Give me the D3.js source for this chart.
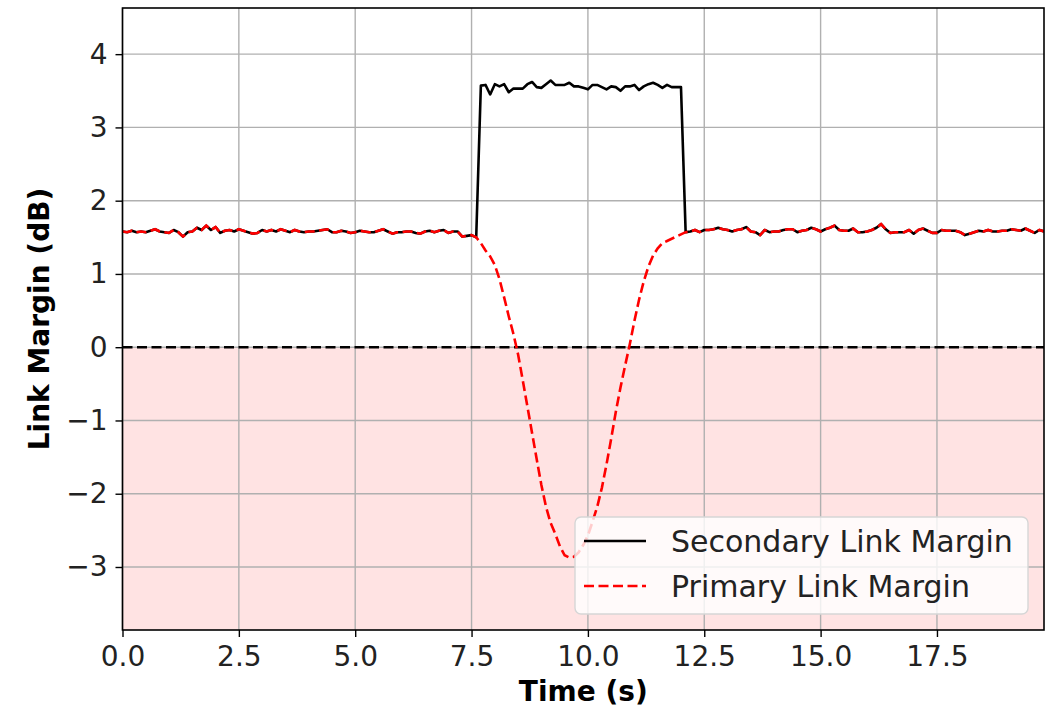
<!DOCTYPE html>
<html>
<head>
<meta charset="utf-8">
<script src="https://cdn.jsdelivr.net/npm/d3@7"></script>
<style>
  html, body { margin: 0; padding: 0; background: #fff; }
  svg { display: block; }
  text { font-family: "DejaVu Sans", sans-serif; }
</style>
</head>
<body>
<svg id="chart" width="1056" height="710"></svg>
<script>
// ---- Data (time step 0.1 s, t = 0.0 ... 19.8) ----
const timeStart = 0.0;
const timeStep = 0.1;

const baselineA = [ // t = 0.0 .. 7.5
  1.58, 1.57, 1.59, 1.57, 1.58, 1.57, 1.59, 1.61, 1.58, 1.57,
  1.56, 1.60, 1.57, 1.51, 1.57, 1.58, 1.63, 1.60, 1.66, 1.60,
  1.64, 1.56, 1.59, 1.60, 1.58, 1.61, 1.59, 1.57, 1.55, 1.56,
  1.60, 1.58, 1.60, 1.58, 1.61, 1.59, 1.57, 1.60, 1.58, 1.57,
  1.58, 1.58, 1.59, 1.60, 1.61, 1.57, 1.57, 1.59, 1.58, 1.56,
  1.57, 1.59, 1.58, 1.57, 1.57, 1.59, 1.61, 1.58, 1.55, 1.57,
  1.57, 1.58, 1.58, 1.56, 1.55, 1.58, 1.59, 1.57, 1.59, 1.60,
  1.56, 1.58, 1.58, 1.51, 1.52, 1.53
];
const eventStartValue = [1.50]; // t = 7.6 (shared by both series)

const secondaryPlateau = [ // t = 7.7 .. 12.0
  3.57, 3.58, 3.45, 3.59, 3.56, 3.59, 3.48, 3.53, 3.53, 3.53,
  3.59, 3.62, 3.55, 3.54, 3.59, 3.64, 3.58, 3.58, 3.58, 3.61,
  3.56, 3.56, 3.54, 3.52, 3.58, 3.58, 3.55, 3.52, 3.56, 3.55,
  3.50, 3.56, 3.56, 3.58, 3.51, 3.56, 3.59, 3.61, 3.58, 3.54,
  3.58, 3.55, 3.55, 3.55
];

const primaryDip = [ // t = 7.7 .. 12.0
  1.42, 1.32, 1.24, 1.12, 0.93, 0.68, 0.42, 0.18, -0.10, -0.45,
  -0.81, -1.17, -1.53, -1.88, -2.18, -2.40, -2.55, -2.72, -2.84, -2.87,
  -2.86, -2.80, -2.70, -2.57, -2.38, -2.18, -1.92, -1.60, -1.25, -0.88,
  -0.55, -0.25, 0.04, 0.36, 0.65, 0.90, 1.10, 1.25, 1.35, 1.42,
  1.45, 1.48, 1.51, 1.54
];

const baselineB = [ // t = 12.1 .. 19.8
  1.57, 1.58, 1.60, 1.57, 1.60, 1.60, 1.61, 1.63, 1.61, 1.60,
  1.58, 1.60, 1.61, 1.64, 1.58, 1.57, 1.53, 1.60, 1.57, 1.58,
  1.58, 1.60, 1.61, 1.61, 1.57, 1.59, 1.60, 1.63, 1.61, 1.58,
  1.61, 1.63, 1.66, 1.60, 1.59, 1.59, 1.62, 1.57, 1.57, 1.58,
  1.60, 1.63, 1.68, 1.61, 1.56, 1.57, 1.57, 1.57, 1.60, 1.55,
  1.60, 1.62, 1.59, 1.56, 1.56, 1.60, 1.59, 1.59, 1.59, 1.57,
  1.53, 1.55, 1.57, 1.59, 1.58, 1.60, 1.58, 1.58, 1.59, 1.59,
  1.61, 1.60, 1.59, 1.62, 1.59, 1.56, 1.60, 1.58
];

const secondaryValues = [].concat(baselineA, eventStartValue, secondaryPlateau, baselineB);
const primaryValues = [].concat(baselineA, eventStartValue, primaryDip, baselineB);

const xTicks = [0, 2.5, 5, 7.5, 10, 12.5, 15, 17.5];
const xTickLabels = ["0.0", "2.5", "5.0", "7.5", "10.0", "12.5", "15.0", "17.5"];
const yTicks = [-3, -2, -1, 0, 1, 2, 3, 4];
const yTickLabels = ["\u22123", "\u22122", "\u22121", "0", "1", "2", "3", "4"];
const xDomain = [0, 19.8];
const yDomain = [-3.86, 4.63];
const seriesNames = ["Secondary Link Margin", "Primary Link Margin"];

// ---- Layout ----
const plot = { left: 122.5, right: 1044, top: 8, bottom: 630 };
const svg = d3.select("#chart");

const x = d3.scaleLinear().domain(xDomain).range([plot.left, plot.right]);
const y = d3.scaleLinear().domain(yDomain).range([plot.bottom, plot.top]);

const toPoints = vals => vals.map((v, i) => ({ t: timeStart + i * timeStep, v }));
const secondary = toPoints(secondaryValues);
const primary = toPoints(primaryValues);

svg.append("defs").append("clipPath").attr("id", "clip")
  .append("rect")
  .attr("x", plot.left).attr("y", plot.top)
  .attr("width", plot.right - plot.left).attr("height", plot.bottom - plot.top);

// pink region below zero
svg.append("rect")
  .attr("x", x(xDomain[0])).attr("y", y(0))
  .attr("width", x(xDomain[1]) - x(xDomain[0]))
  .attr("height", y(yDomain[0]) - y(0))
  .attr("fill", "rgba(255,0,0,0.11)");

// grid
const grid = svg.append("g");
grid.selectAll("line.gx").data(xTicks).join("line")
  .attr("x1", d => x(d)).attr("x2", d => x(d))
  .attr("y1", plot.top).attr("y2", plot.bottom)
  .attr("stroke", "#b0b0b0").attr("stroke-width", 1.4);
grid.selectAll("line.gy").data(yTicks).join("line")
  .attr("x1", plot.left).attr("x2", plot.right)
  .attr("y1", d => y(d)).attr("y2", d => y(d))
  .attr("stroke", "#b0b0b0").attr("stroke-width", 1.4);

// zero line
svg.append("line")
  .attr("x1", plot.left).attr("x2", plot.right)
  .attr("y1", y(0)).attr("y2", y(0))
  .attr("stroke", "#000").attr("stroke-width", 2.6)
  .attr("stroke-dasharray", "10,4.5");

const line = d3.line().x(d => x(d.t)).y(d => y(d.v));
const lines = svg.append("g").attr("clip-path", "url(#clip)");
lines.append("path").datum(secondary)
  .attr("d", line).attr("fill", "none")
  .attr("stroke", "#000").attr("stroke-width", 2.6)
  .attr("stroke-linejoin", "round");
lines.append("path").datum(primary)
  .attr("d", line).attr("fill", "none")
  .attr("stroke", "#ff0000").attr("stroke-width", 2.6)
  .attr("stroke-dasharray", "10,4.5");

// axes
const xAxis = d3.axisBottom(x).tickValues(xTicks)
  .tickFormat((d, i) => xTickLabels[i]).tickSize(7).tickPadding(9);
const yAxis = d3.axisLeft(y).tickValues(yTicks)
  .tickFormat((d, i) => yTickLabels[i]).tickSize(7).tickPadding(8);

const gx = svg.append("g").attr("transform", `translate(0,${plot.bottom})`).call(xAxis);
const gy = svg.append("g").attr("transform", `translate(${plot.left},0)`).call(yAxis);
[gx, gy].forEach(g => {
  g.select(".domain").remove();
  g.selectAll(".tick line").attr("stroke", "#000").attr("stroke-width", 1.4);
  g.selectAll(".tick text").attr("fill", "#222")
    .style("font-family", "DejaVu Sans").style("font-size", "28px");
});

// spines
svg.append("rect")
  .attr("x", plot.left).attr("y", plot.top)
  .attr("width", plot.right - plot.left).attr("height", plot.bottom - plot.top)
  .attr("fill", "none").attr("stroke", "#000").attr("stroke-width", 1.6);

// axis labels
svg.append("text")
  .attr("x", (plot.left + plot.right) / 2).attr("y", 701)
  .attr("text-anchor", "middle")
  .style("font-size", "28px").style("font-weight", "bold").attr("fill", "#000")
  .text("Time (s)");
svg.append("text")
  .attr("transform", `translate(49,${(plot.top + plot.bottom) / 2}) rotate(-90)`)
  .attr("text-anchor", "middle")
  .style("font-size", "28px").style("font-weight", "bold").attr("fill", "#000")
  .text("Link Margin (dB)");

// legend
const lg = svg.append("g");
lg.append("rect")
  .attr("x", 575).attr("y", 517).attr("width", 453).attr("height", 97)
  .attr("rx", 6).attr("ry", 6)
  .attr("fill", "rgba(255,255,255,0.8)")
  .attr("stroke", "#d6d6d6").attr("stroke-width", 1.4);
const legendItems = [
  { name: seriesNames[0], color: "#000", dash: null, y: 541 },
  { name: seriesNames[1], color: "#ff0000", dash: "10,4.5", y: 586 }
];
legendItems.forEach(it => {
  lg.append("line")
    .attr("x1", 584).attr("x2", 646).attr("y1", it.y).attr("y2", it.y)
    .attr("stroke", it.color).attr("stroke-width", 2.6)
    .attr("stroke-dasharray", it.dash);
  lg.append("text")
    .attr("x", 671).attr("y", it.y).attr("dy", "0.36em")
    .style("font-size", "30px").attr("fill", "#222")
    .text(it.name);
});
</script>
</body>
</html>
